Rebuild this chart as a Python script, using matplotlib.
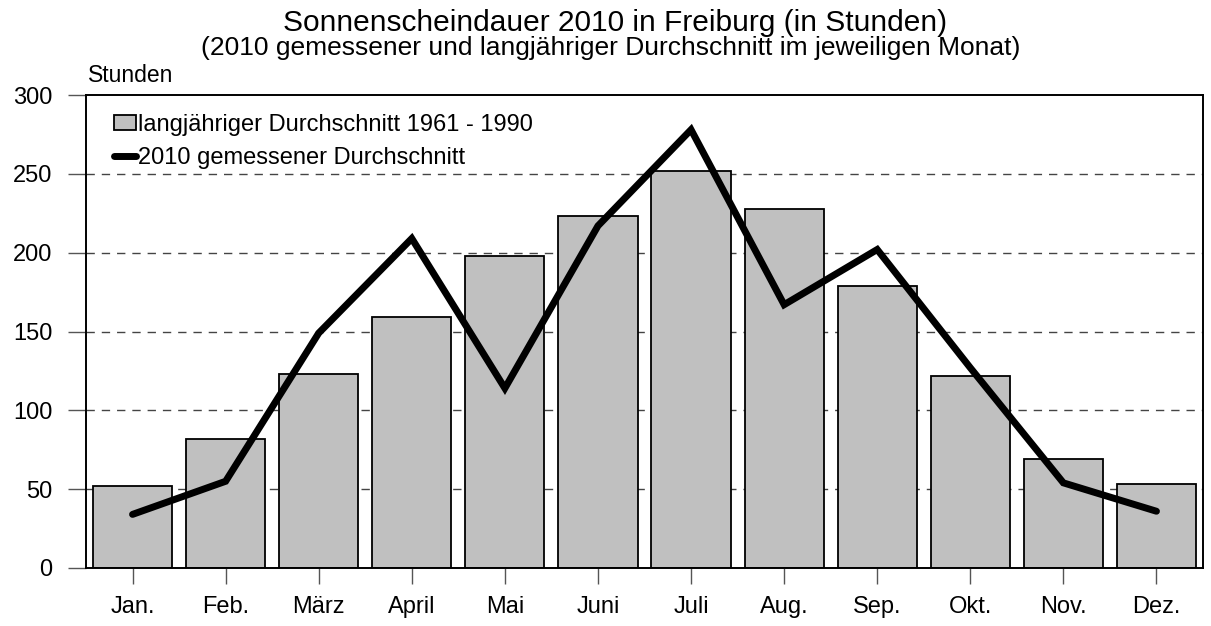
import matplotlib
matplotlib.use("Agg")
import matplotlib.pyplot as plt
import numpy as np

plt.rcParams['font.family'] = ['Liberation Sans', 'DejaVu Sans']

# Monatswerte (Stunden)
monate = ["Jan.", "Feb.", "März", "April", "Mai", "Juni",
          "Juli", "Aug.", "Sep.", "Okt.", "Nov.", "Dez."]
durchschnitt_1961_1990 = [52, 82, 123, 159, 198, 223, 252, 228, 179, 122, 69, 53]
gemessen_2010 = [34, 55, 149, 209, 114, 217, 278, 167, 202, 127, 54, 36]
y_ticks = [0, 50, 100, 150, 200, 250, 300]

fig = plt.figure(figsize=(12.11, 6.26), dpi=100)
ax = fig.add_axes([86 / 1211, 1 - 568 / 626, (1203 - 86) / 1211, (568 - 95) / 626])

x = np.arange(len(monate))
bars = ax.bar(x, durchschnitt_1961_1990, width=0.85, color='#c0c0c0', edgecolor='black',
              linewidth=1.3, zorder=2, label='langjähriger Durchschnitt 1961 - 1990')
line, = ax.plot(x, gemessen_2010, color='black', linewidth=5, solid_capstyle='round',
                solid_joinstyle='miter', zorder=3, label='2010 gemessener Durchschnitt')

ax.set_xlim(-0.5, len(monate) - 0.5)
ax.set_ylim(0, 300)
ax.set_xticks(x)
ax.set_xticklabels(monate, fontsize=17)
ax.set_yticks(y_ticks)
ax.set_yticklabels([str(v) for v in y_ticks], fontsize=17)
ax.tick_params(axis='y', length=13, width=1, color='#555555', pad=11)
ax.tick_params(axis='x', length=11.5, width=1, color='#555555', pad=9)

for yv in y_ticks[1:-1]:
    ax.axhline(yv, color='#444444', linewidth=1, linestyle=(0, (6, 5)), zorder=1)

for s in ax.spines.values():
    s.set_linewidth(1.4)
    s.set_color('black')

ax.legend(handles=[bars, line], loc='upper left', bbox_to_anchor=(0.017, 0.98),
          frameon=False, fontsize=17, handlelength=0.9, handleheight=0.6,
          handletextpad=0.1, labelspacing=0.45, borderaxespad=0)

fig.text(615 / 1211, 1 - 23 / 626, "Sonnenscheindauer 2010 in Freiburg (in Stunden)",
         ha='center', va='center', fontsize=21.5)
fig.text(611 / 1211, 1 - 48 / 626,
         "(2010 gemessener und langjähriger Durchschnitt im jeweiligen Monat)",
         ha='center', va='center', fontsize=19)
fig.text(88 / 1211, 1 - 76 / 626, "Stunden", ha='left', va='center', fontsize=16.5)

fig.savefig("out.png", dpi=100)
